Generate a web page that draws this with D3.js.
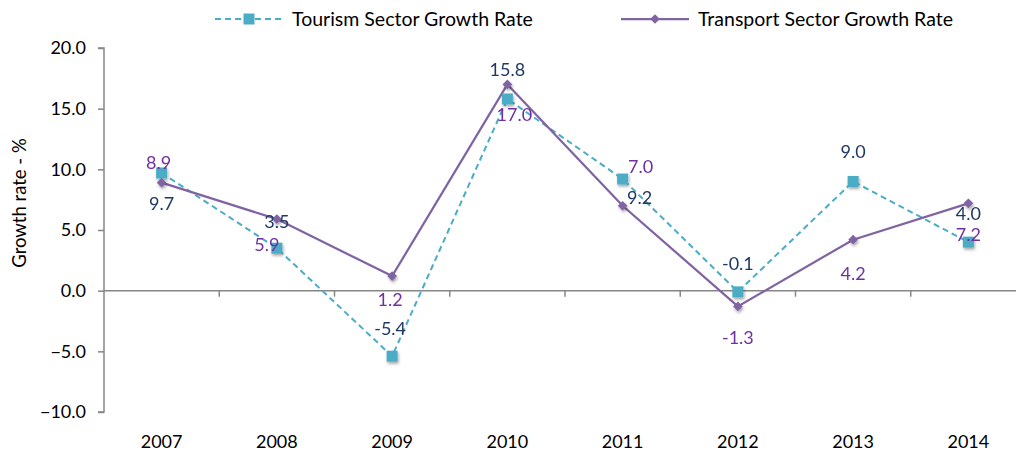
<!DOCTYPE html>
<html>
<head>
<meta charset="utf-8">
<script src="https://cdn.jsdelivr.net/npm/d3@7"></script>
<style>
  body { margin: 0; background: #fff; }
  svg { display: block; font-family: Lato, "Open Sans", sans-serif; }
</style>
</head>
<body>
<svg id="chart" width="1016" height="453"></svg>
<script>
var years = ['2007', '2008', '2009', '2010', '2011', '2012', '2013', '2014'];
var tourism = [9.7, 3.5, -5.4, 15.8, 9.2, -0.1, 9.0, 4.0];
var transport = [8.9, 5.9, 1.2, 17.0, 7.0, -1.3, 4.2, 7.2];
var yTicks = [-10, -5, 0, 5, 10, 15, 20];

// label offsets (dx, dy to text centre) from each point, as the source chart placed them
var tourismLabelPos = [[0, 31], [0, -27], [-2, -28], [0, -29], [17, 18], [0, -28], [0, -30], [0, -29]];
var transportLabelPos = [[-3, -20], [-10, 25], [-2, 23], [7, 30], [18, -39], [0, 31], [0, 34], [0, 31]];

var svg = d3.select('#chart');
var width = +svg.attr('width');
var height = +svg.attr('height');

var x = d3.scaleBand().domain(years).range([104, 1026]);
var y = d3.scaleLinear().domain([-10, 20]).range([412, 48]);

var cx = function (d, i) { return x(years[i]) + x.bandwidth() / 2; };

var defs = svg.append('defs');
var shadow = defs.append('filter').attr('id', 'shadow')
  .attr('x', '-50%').attr('y', '-50%').attr('width', '200%').attr('height', '200%');
shadow.append('feDropShadow')
  .attr('dx', 1).attr('dy', 2).attr('stdDeviation', 1.5)
  .attr('flood-color', '#000').attr('flood-opacity', 0.35);

// y axis
var yAxis = svg.append('g')
  .attr('transform', 'translate(104,0)')
  .call(d3.axisLeft(y).tickValues(yTicks).tickSize(6).tickPadding(12)
    .tickFormat(d3.format('.1f')));
yAxis.select('.domain').attr('stroke', '#868686').attr('stroke-width', 1.5)
  .attr('d', 'M-6,' + y(20) + 'H0V' + y(-10) + 'H-6');
yAxis.selectAll('.tick line').attr('stroke', '#868686').attr('stroke-width', 1.5);
yAxis.selectAll('.tick text').attr('fill', '#000').style('font-size', '18px')
  .style('font-family', 'Lato, sans-serif');

// zero line with category ticks
var xAxis = svg.append('g')
  .attr('transform', 'translate(0,' + y(0) + ')');
xAxis.append('line')
  .attr('x1', 104).attr('x2', width)
  .attr('stroke', '#868686').attr('stroke-width', 1.5);
xAxis.selectAll('line.tk')
  .data(years.slice(1))
  .enter().append('line')
  .attr('class', 'tk')
  .attr('x1', function (d) { return x(d); })
  .attr('x2', function (d) { return x(d); })
  .attr('y1', 0).attr('y2', 6)
  .attr('stroke', '#868686').attr('stroke-width', 1.5);

// year labels at the bottom
svg.append('g')
  .selectAll('text')
  .data(years)
  .enter().append('text')
  .attr('x', function (d) { return x(d) + x.bandwidth() / 2; })
  .attr('y', 448)
  .attr('text-anchor', 'middle')
  .style('font-size', '18px')
  .text(function (d) { return d; });

// y title
svg.append('text')
  .attr('transform', 'translate(26,' + 203 + ') rotate(-90)')
  .attr('text-anchor', 'middle')
  .style('font-size', '18.5px')
  .text('Growth rate - %');

var line = d3.line().x(cx).y(function (d) { return y(d); });

svg.append('path')
  .datum(tourism)
  .attr('d', line)
  .attr('fill', 'none')
  .attr('stroke', '#4bacc6')
  .attr('stroke-width', 2)
  .attr('stroke-dasharray', '6,4');

svg.append('path')
  .datum(transport)
  .attr('d', line)
  .attr('fill', 'none')
  .attr('stroke', '#8064a2')
  .attr('stroke-width', 2.25);

var tMarkers = svg.append('g').attr('filter', 'url(#shadow)');
tMarkers.selectAll('rect')
  .data(tourism)
  .enter().append('rect')
  .attr('x', function (d, i) { return cx(d, i) - 5.5; })
  .attr('y', function (d) { return y(d) - 5.5; })
  .attr('width', 11).attr('height', 11)
  .attr('fill', '#4bacc6');

var pMarkers = svg.append('g').attr('filter', 'url(#shadow)');
pMarkers.selectAll('path')
  .data(transport)
  .enter().append('path')
  .attr('d', d3.symbol(d3.symbolDiamond2, 60))
  .attr('transform', function (d, i) { return 'translate(' + cx(d, i) + ',' + y(d) + ')'; })
  .attr('fill', '#8064a2');

// data labels
svg.append('g')
  .selectAll('text')
  .data(tourism)
  .enter().append('text')
  .attr('x', function (d, i) { return cx(d, i) + tourismLabelPos[i][0]; })
  .attr('y', function (d, i) { return y(d) + tourismLabelPos[i][1] + 6.5; })
  .attr('text-anchor', 'middle')
  .attr('fill', '#1f3864')
  .style('font-size', '18px')
  .text(function (d) { return d.toFixed(1); });

svg.append('g')
  .selectAll('text')
  .data(transport)
  .enter().append('text')
  .attr('x', function (d, i) { return cx(d, i) + transportLabelPos[i][0]; })
  .attr('y', function (d, i) { return y(d) + transportLabelPos[i][1] + 6.5; })
  .attr('text-anchor', 'middle')
  .attr('fill', '#7030a0')
  .style('font-size', '18px')
  .text(function (d) { return d.toFixed(1); });

// legend
var legend = [
  { name: 'Tourism Sector Growth Rate', color: '#4bacc6', x: 215, dash: '6,4', marker: 'square' },
  { name: 'Transport Sector Growth Rate', color: '#8064a2', x: 621, dash: null, marker: 'diamond' }
];
var lg = svg.append('g').selectAll('g')
  .data(legend)
  .enter().append('g')
  .attr('transform', function (d) { return 'translate(' + d.x + ',19)'; });
lg.append('line')
  .attr('x1', 0).attr('x2', 68)
  .attr('stroke', function (d) { return d.color; })
  .attr('stroke-width', function (d) { return d.dash ? 2 : 2.25; })
  .attr('stroke-dasharray', function (d) { return d.dash; });
lg.append('path')
  .attr('d', function (d) {
    return d.marker === 'square' ? d3.symbol(d3.symbolSquare, 121)() : d3.symbol(d3.symbolDiamond2, 60)();
  })
  .attr('transform', 'translate(34,0)')
  .attr('fill', function (d) { return d.color; });
lg.append('text')
  .attr('x', 77)
  .attr('y', 7)
  .style('font-size', '19.5px')
  .text(function (d) { return d.name; });
</script>
</body>
</html>
